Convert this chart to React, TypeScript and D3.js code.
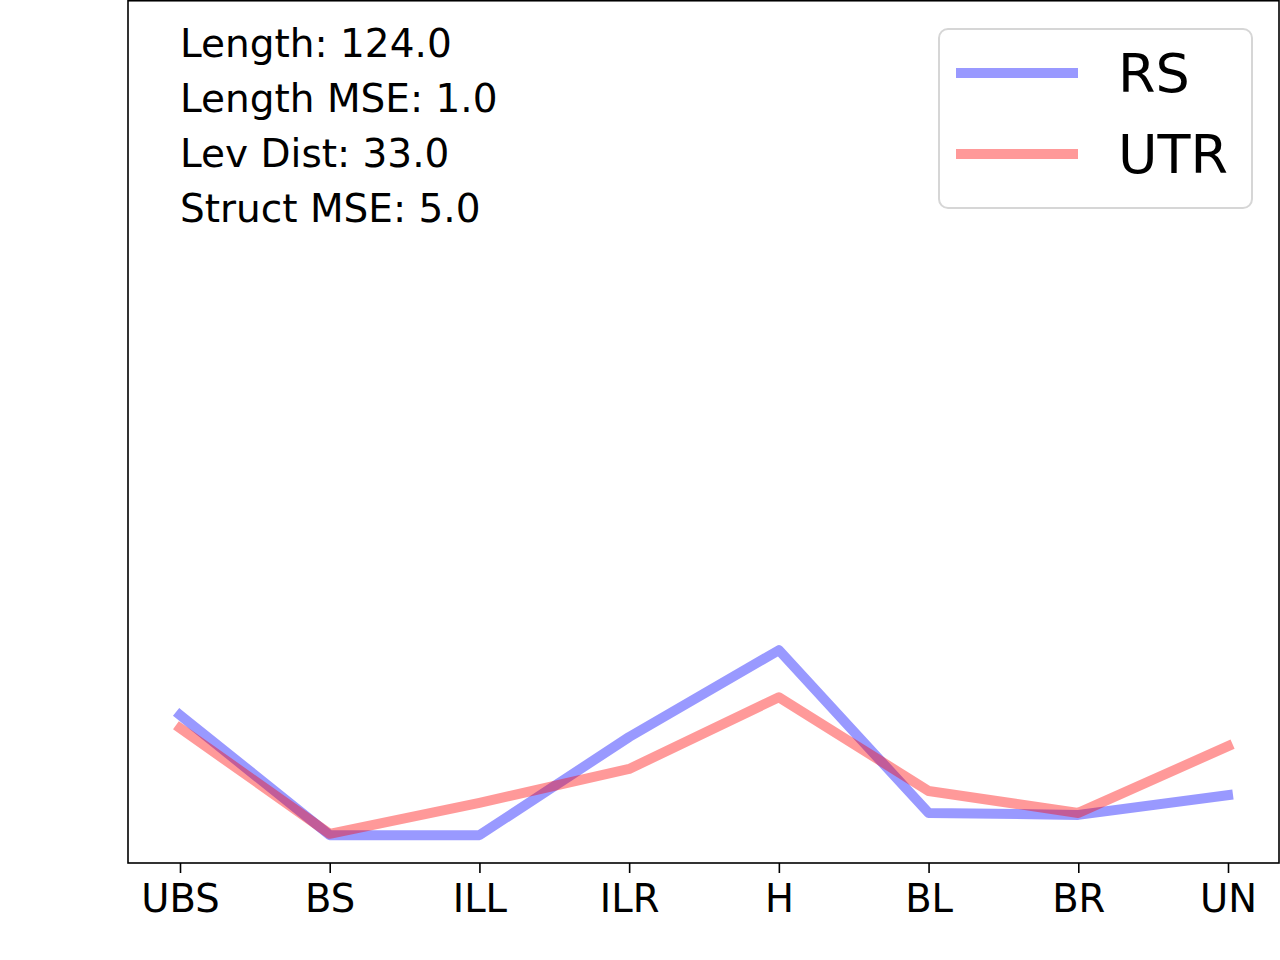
import React, { useEffect, useRef } from "react";
import * as d3 from "d3";

const categories = ["UBS", "BS", "ILL", "ILR", "H", "BL", "BR", "UN"];
const rsValues = [4.32, 0, 0, 3.53, 6.65, 0.8, 0.73, 1.44];
const utrValues = [3.85, 0.05, 1.16, 2.38, 4.96, 1.59, 0.8, 3.2];
const statLines = [
  "Length: 124.0",
  "Length MSE: 1.0",
  "Lev Dist: 33.0",
  "Struct MSE: 5.0",
];
const seriesInfo = [
  { label: "RS", color: "blue", values: rsValues },
  { label: "UTR", color: "red", values: utrValues },
];

const W = 1280;
const H = 960;
const FONT = "DejaVu Sans, sans-serif";

const App: React.FC = () => {
  const svgRef = useRef<SVGSVGElement>(null);

  useEffect(() => {
    document.body.style.margin = "0";
    if (!svgRef.current) return;
    const svg = d3.select(svgRef.current);
    svg.selectAll("*").remove();

    const margin = { top: 0.75, right: 1, bottom: 97, left: 128 };

    const xScale = d3
      .scalePoint<string>()
      .domain(categories)
      .range([180, 1228]);

    const yScale = d3
      .scaleLinear()
      .domain([-1, 30])
      .range([H - margin.bottom, margin.top]);

    svg
      .append("rect")
      .attr("width", W)
      .attr("height", H)
      .attr("fill", "white");

    // lines
    const line = d3
      .line<number>()
      .x((_, i) => xScale(categories[i]) ?? 0)
      .y((d) => yScale(d));

    seriesInfo.forEach((s) => {
      svg
        .append("path")
        .datum(s.values)
        .attr("d", line)
        .attr("fill", "none")
        .attr("stroke", s.color)
        .attr("stroke-opacity", 0.4)
        .attr("stroke-width", 10)
        .attr("stroke-linejoin", "round")
        .attr("stroke-linecap", "square");
    });

    // frame
    svg
      .append("rect")
      .attr("x", margin.left)
      .attr("y", margin.top)
      .attr("width", W - margin.right - margin.left)
      .attr("height", H - margin.bottom - margin.top)
      .attr("fill", "none")
      .attr("stroke", "black")
      .attr("stroke-width", 1.6);

    // x axis
    const xAxis = d3.axisBottom(xScale).tickSize(10).tickPadding(12);
    const gx = svg
      .append("g")
      .attr("transform", `translate(0,${H - margin.bottom})`)
      .call(xAxis);
    gx.select(".domain").remove();
    gx.selectAll(".tick line").attr("stroke-width", 1.6);
    gx.selectAll(".tick text")
      .attr("font-family", FONT)
      .attr("font-size", 38.5)
      .attr("fill", "black");

    // stats text
    statLines.forEach((t, i) => {
      svg
        .append("text")
        .attr("x", 180)
        .attr("y", 57 + i * 55)
        .attr("font-family", FONT)
        .attr("font-size", 39)
        .text(t);
    });

    // legend
    const legend = svg.append("g").attr("transform", "translate(939,29)");
    legend
      .append("rect")
      .attr("width", 313)
      .attr("height", 179)
      .attr("rx", 9)
      .attr("fill", "white")
      .attr("fill-opacity", 0.8)
      .attr("stroke", "#d6d6d6")
      .attr("stroke-width", 2);

    seriesInfo.forEach((s, i) => {
      const g = legend.append("g").attr("transform", `translate(0,${44 + i * 81})`);
      g.append("line")
        .attr("x1", 17)
        .attr("x2", 139)
        .attr("stroke", s.color)
        .attr("stroke-opacity", 0.4)
        .attr("stroke-width", 10);
      g.append("text")
        .attr("x", 179)
        .attr("y", 19)
        .attr("font-family", FONT)
        .attr("font-size", 54)
        .text(s.label);
    });
  }, []);

  return (
    <svg
      ref={svgRef}
      width={W}
      height={H}
      style={{ display: "block" }}
    ></svg>
  );
};

export default App;
